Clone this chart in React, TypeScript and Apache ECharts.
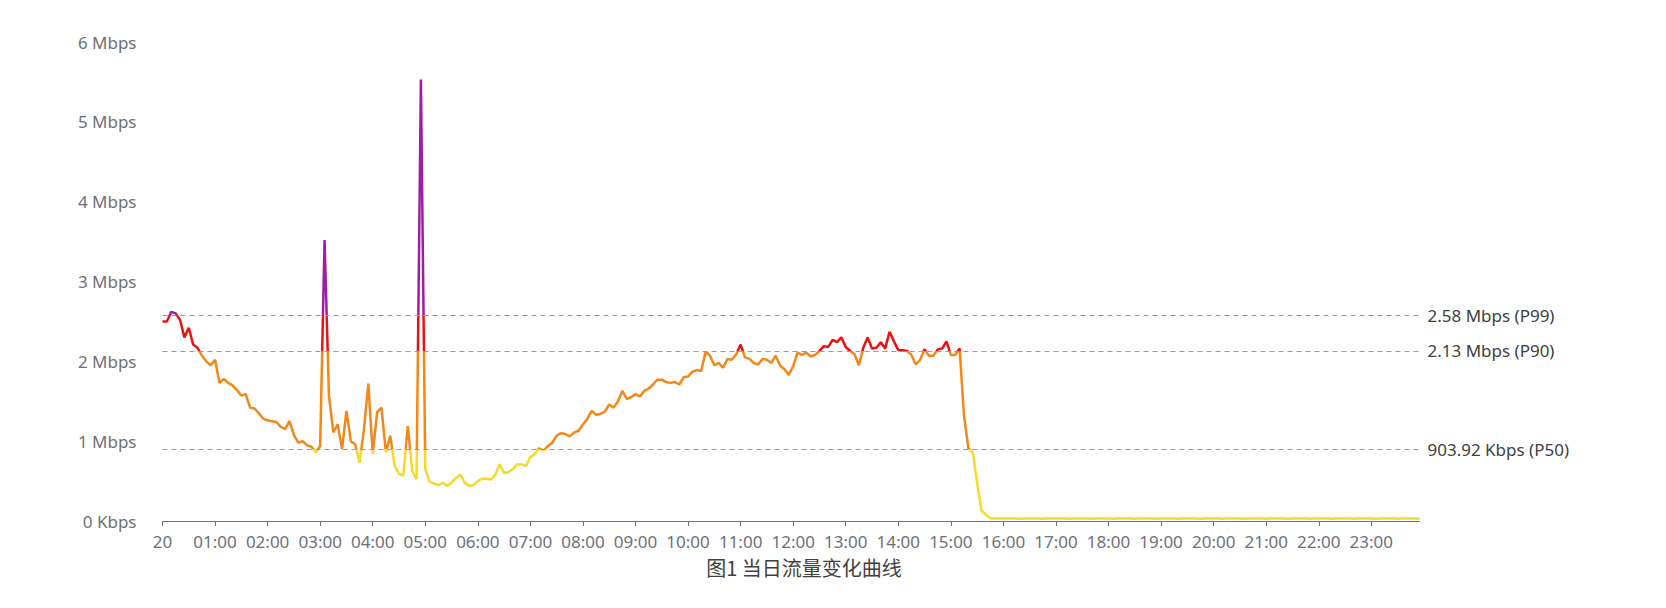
import React, { useEffect, useRef } from "react";
import * as echarts from "echarts";

// 5-minute samples, Mbps
const nightMbps = [
  2.5, 2.5, 2.62, 2.6, 2.52, 2.3, 2.42, 2.21, 2.17, 2.07, 2.0, 1.95,
  2.02, 1.73, 1.78, 1.73, 1.7, 1.64, 1.57, 1.59, 1.42, 1.41, 1.35, 1.28,
  1.26, 1.25, 1.24, 1.18, 1.15, 1.25, 1.08, 0.98, 1.0, 0.95, 0.93, 0.86,
];
const earlyMbps = [
  0.94, 3.52, 1.57, 1.11, 1.21, 0.9, 1.38, 1.0, 0.96, 0.73, 1.15, 1.72,
  0.84, 1.36, 1.42, 0.86, 1.07, 0.69, 0.59, 0.57, 1.19, 0.63, 0.525, 5.53,
  0.65, 0.49, 0.47, 0.45, 0.48, 0.44, 0.48, 0.54, 0.58, 0.48, 0.44, 0.45,
];
const morningMbps = [
  0.5, 0.53, 0.53, 0.52, 0.58, 0.71, 0.6, 0.61, 0.65, 0.71, 0.71, 0.69,
  0.8, 0.84, 0.91, 0.88, 0.94, 0.98, 1.07, 1.1, 1.09, 1.06, 1.11, 1.13,
  1.21, 1.28, 1.38, 1.33, 1.34, 1.37, 1.46, 1.42, 1.5, 1.63, 1.53, 1.55,
];
const middayMbps = [
  1.59, 1.56, 1.63, 1.66, 1.71, 1.77, 1.77, 1.74, 1.73, 1.74, 1.71, 1.8,
  1.81, 1.87, 1.89, 1.88, 2.12, 2.07, 1.95, 1.98, 1.92, 2.03, 2.02, 2.09,
  2.21, 2.05, 2.03, 1.98, 1.96, 2.03, 2.02, 1.98, 2.07, 1.95, 1.9, 1.83,
];
const afternoonMbps = [
  1.94, 2.11, 2.08, 2.11, 2.06, 2.08, 2.13, 2.19, 2.18, 2.27, 2.24, 2.3,
  2.18, 2.13, 2.09, 1.95, 2.17, 2.3, 2.16, 2.17, 2.24, 2.16, 2.37, 2.25,
  2.14, 2.14, 2.13, 2.08, 1.96, 2.02, 2.15, 2.07, 2.07, 2.15, 2.16, 2.25,
];
const dropMbps = [2.08, 2.08, 2.16, 1.32, 0.91, 0.86, 0.48, 0.13, 0.08, 0.035, 0.03, 0.03];
const idleMbps = [
  0.03, 0.03, 0.031, 0.03, 0.029, 0.03, 0.031, 0.03, 0.03, 0.029, 0.03, 0.03,
  0.031, 0.03, 0.03, 0.029, 0.03, 0.031, 0.03, 0.03, 0.029, 0.03, 0.031, 0.03,
  0.03, 0.029, 0.03, 0.031, 0.03, 0.03, 0.029, 0.03, 0.031, 0.03, 0.03, 0.029,
  0.03, 0.031, 0.03, 0.03, 0.029, 0.03, 0.031, 0.03, 0.03, 0.029, 0.03, 0.031,
  0.03, 0.03, 0.029, 0.03, 0.031, 0.03, 0.03, 0.029, 0.03, 0.031, 0.03, 0.03,
  0.029, 0.03, 0.031, 0.03, 0.03, 0.029, 0.03, 0.031, 0.03, 0.03, 0.029, 0.03,
  0.031, 0.03, 0.03, 0.029, 0.03, 0.031, 0.03, 0.03, 0.029, 0.03, 0.031, 0.03,
  0.03, 0.029, 0.03, 0.031, 0.03, 0.03, 0.029, 0.03, 0.031, 0.03, 0.03, 0.029,
];

const percentileValues = [2.58, 2.13, 0.90392];
const percentileLabels = ["2.58 Mbps (P99)", "2.13 Mbps (P90)", "903.92 Kbps (P50)"];
const firstTickLabel = "20";
const chartTitle = "图1 当日流量变化曲线";

const colors = {
  low: "#F4DA2C",
  mid: "#F2871A",
  high: "#EE1111",
  peak: "#A11CA6",
};

const seriesValues = [
  ...nightMbps,
  ...earlyMbps,
  ...morningMbps,
  ...middayMbps,
  ...afternoonMbps,
  ...dropMbps,
  ...idleMbps,
];

const timeCategories: string[] = [];
for (let i = 0; i < seriesValues.length; i++) {
  const m = i * 5;
  const hh = String(Math.floor(m / 60)).padStart(2, "0");
  const mm = String(m % 60).padStart(2, "0");
  timeCategories.push(`${hh}:${mm}`);
}

const FONT = "'Noto Sans', 'Noto Sans CJK SC', sans-serif";

export default function App() {
  const ref = useRef<HTMLDivElement>(null);
  useEffect(() => {
    if (!ref.current) return;
    const chart = echarts.init(ref.current, undefined, { renderer: "svg" });
    chart.setOption({
      animation: false,
      textStyle: { fontFamily: FONT },
      grid: { left: 162.5, right: 246.5, top: 42, bottom: 87 },
      xAxis: {
        type: "category",
        boundaryGap: false,
        data: timeCategories,
        axisLine: { lineStyle: { color: "#6E7079" } },
        axisTick: { interval: 11, length: 5, lineStyle: { color: "#6E7079" } },
        axisLabel: {
          interval: 11,
          margin: 12,
          fontSize: 17,
          color: "#6E7079",
          fontFamily: FONT,
          formatter: (v: string, idx: number) => (idx === 0 ? firstTickLabel : v),
        },
      },
      yAxis: {
        type: "value",
        min: 0,
        max: 6,
        interval: 1,
        splitLine: { show: false },
        axisLine: { show: false },
        axisTick: { show: false },
        axisLabel: {
          margin: 26,
          fontSize: 17,
          color: "#6E7079",
          fontFamily: FONT,
          formatter: (v: number) => (v === 0 ? "0 Kbps" : `${v} Mbps`),
        },
      },
      visualMap: {
        show: false,
        type: "piecewise",
        dimension: 1,
        seriesIndex: 0,
        pieces: [
          { lte: percentileValues[2], color: colors.low },
          { gt: percentileValues[2], lte: percentileValues[1], color: colors.mid },
          { gt: percentileValues[1], lte: percentileValues[0], color: colors.high },
          { gt: percentileValues[0], color: colors.peak },
        ],
      },
      series: [
        {
          type: "line",
          data: seriesValues,
          showSymbol: false,
          symbol: "none",
          lineStyle: { width: 2.5 },
          markLine: {
            silent: true,
            symbol: "none",
            lineStyle: { type: [5, 4], color: "#9a9a9a", width: 1 },
            label: {
              position: "end",
              distance: 8,
              fontSize: 17,
              color: "#404040",
              fontFamily: FONT,
            },
            data: percentileValues.map((v, i) => ({
              yAxis: v,
              label: { formatter: percentileLabels[i] },
            })),
          },
        },
      ],
      graphic: [
        {
          type: "text",
          x: 804,
          y: 567,
          style: {
            text: chartTitle,
            fontSize: 20,
            fill: "#404040",
            fontFamily: "'Noto Sans CJK SC', sans-serif",
            textAlign: "center",
            textVerticalAlign: "middle",
          },
        },
      ],
    });
    return () => chart.dispose();
  }, []);
  return (
    <div
      ref={ref}
      style={{ position: "absolute", left: 0, top: 0, width: 1666, height: 608, background: "#fff" }}
    />
  );
}
